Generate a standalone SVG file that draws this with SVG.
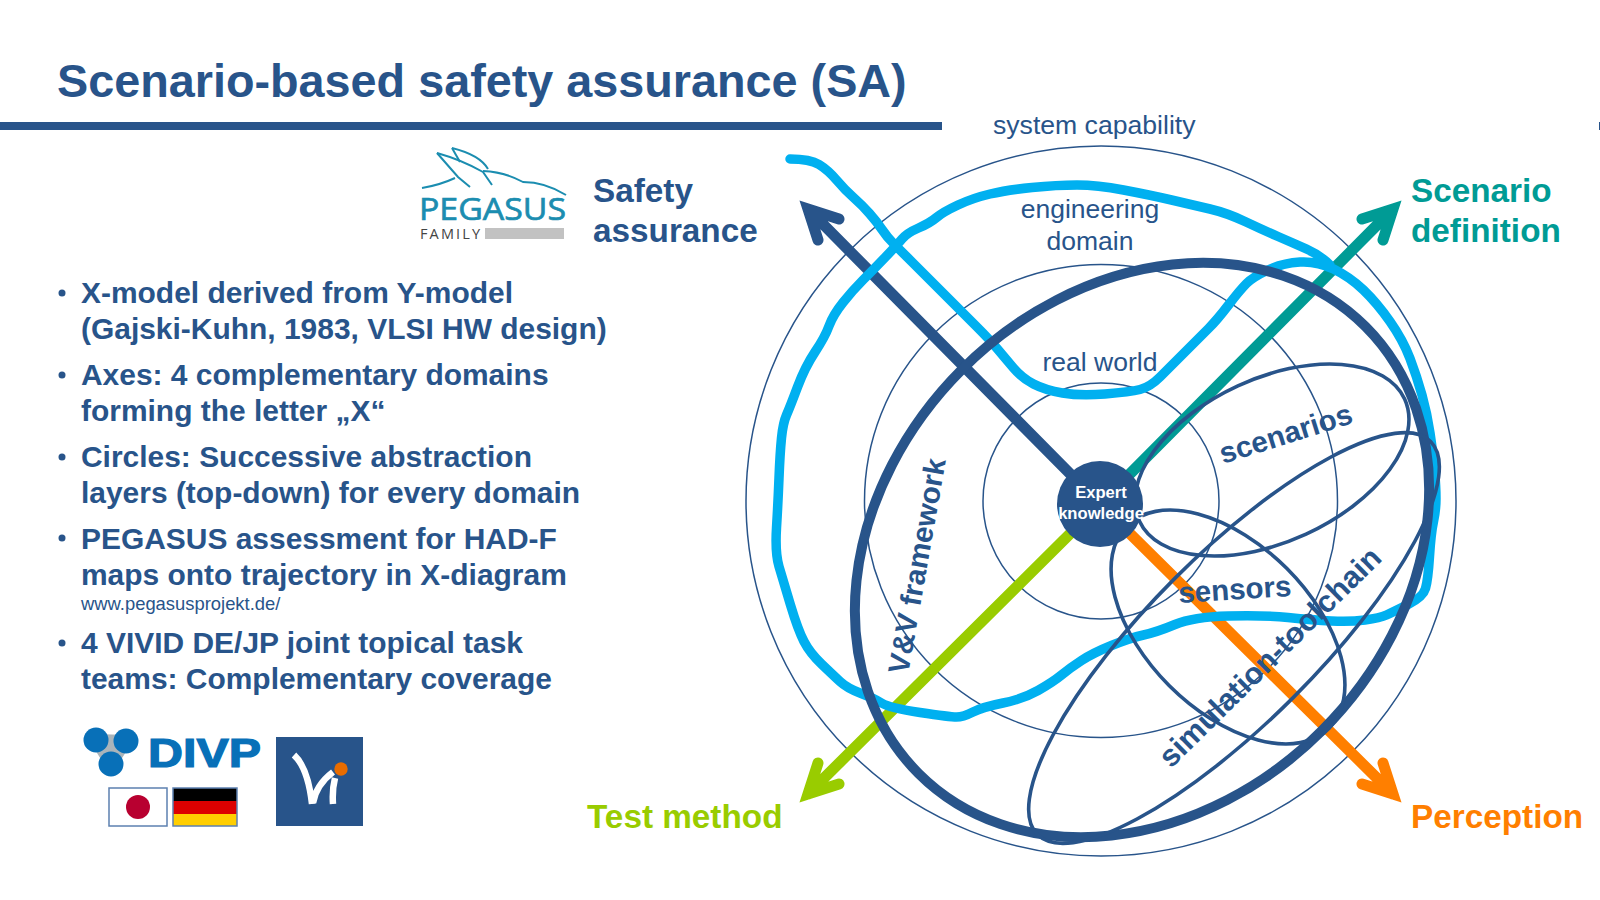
<svg xmlns="http://www.w3.org/2000/svg" width="1600" height="900" viewBox="0 0 1600 900">
<style>
text{font-family:"Liberation Sans",Arial,sans-serif;fill:#28548a}
.b{font-weight:700}
.bul{font-weight:700;font-size:29.95px}
.lab{font-size:26.5px}
.rot{font-weight:700;font-size:29.5px}
.dom{font-weight:700;font-size:33.3px}
.ring{fill:none;stroke:#28548a;stroke-width:1.5}
.ell{fill:none;stroke:#28548a;stroke-width:3.6}
.ax{fill:none;stroke-width:11;stroke-linecap:round;stroke-linejoin:miter}
</style>
<rect width="1600" height="900" fill="#fff"/>
<g id="header">
<text class="b" x="57" y="96.5" font-size="46.75">Scenario-based safety assurance (SA)</text>
<rect x="0" y="122" width="942" height="8" fill="#28548a"/>
<rect x="1599" y="122" width="1" height="8" fill="#28548a"/>
</g>
<g id="bullets">
<circle cx="62" cy="293" r="3.5" fill="#28548a"/><circle cx="62" cy="375" r="3.5" fill="#28548a"/><circle cx="62" cy="457" r="3.5" fill="#28548a"/><circle cx="62" cy="538" r="3.5" fill="#28548a"/><circle cx="62" cy="643" r="3.5" fill="#28548a"/>
<text class="bul" x="81" y="303">X-model derived from Y-model</text>
<text class="bul" x="81" y="339">(Gajski-Kuhn, 1983, VLSI HW design)</text>
<text class="bul" x="81" y="385">Axes: 4 complementary domains</text>
<text class="bul" x="81" y="421">forming the letter „X“</text>
<text class="bul" x="81" y="467">Circles: Successive abstraction</text>
<text class="bul" x="81" y="503">layers (top-down) for every domain</text>
<text class="bul" x="81" y="548.5">PEGASUS assessment for HAD-F</text>
<text class="bul" x="81" y="585">maps onto trajectory in X-diagram</text>
<text x="81" y="610" font-size="18.4">www.pegasusprojekt.de/</text>
<text class="bul" x="81" y="653">4 VIVID DE/JP joint topical task</text>
<text class="bul" x="81" y="689">teams: Complementary coverage</text>
</g>
<g id="pegasus-logo">
<g fill="none" stroke="#1b8db0" stroke-width="2">
<path d="M422 188Q440 185 455 178"/>
<path d="M437 153L458 177L470 187"/>
<path d="M437 153Q462 160 483 172L492 185"/>
<path d="M452 148Q480 155 488 169"/>
<path d="M452 148L460 162"/>
<path d="M483 171Q505 172 523 182Q545 182 566 195"/>
</g>
<text x="419" y="220" font-size="31.5" textLength="147" lengthAdjust="spacingAndGlyphs" stroke="#1b8db0" stroke-width="0.7" style="font-family:'Open Sans',sans-serif;fill:#1b8db0">PEGASUS</text>
<text x="420" y="239" font-size="14.5" textLength="60" style="font-family:'Open Sans',sans-serif;fill:#444">FAMILY</text>
<rect x="485" y="228" width="79" height="11" fill="#c2c2c2"/>
</g>
<g id="divp-logo">
<path d="M96 740L126 741L111 764Z" fill="#aab4ba" stroke="#aab4ba" stroke-width="12"/>
<circle cx="96" cy="740" r="12.5" fill="#0870b8"/><circle cx="126" cy="741" r="12.5" fill="#0870b8"/><circle cx="111" cy="764" r="12.5" fill="#0870b8"/>
<text class="b" x="148" y="767" font-size="40" textLength="113" lengthAdjust="spacingAndGlyphs" stroke="#0870b8" stroke-width="1.2" style="fill:#0870b8">DIVP</text>
</g>
<g id="flags">
<rect x="109" y="788" width="58" height="38" fill="#fff" stroke="#5c80b0" stroke-width="1.5"/>
<circle cx="138" cy="807" r="12" fill="#b80030"/>
<rect x="173" y="788" width="64" height="13" fill="#000"/><rect x="173" y="801" width="64" height="13" fill="#d00"/><rect x="173" y="814" width="64" height="12" fill="#ffce00"/>
<rect x="173" y="788" width="64" height="38" fill="none" stroke="#5c80b0" stroke-width="1.5"/>
</g>
<g id="vivid-logo">
<rect x="276" y="737" width="87" height="89" fill="#28548a"/>
<path d="M294 755Q308 768 312 804M313 803Q316 785 333 772M333 804Q332 790 335 778" fill="none" stroke="#fff" stroke-width="6.5"/>
<circle cx="341" cy="769" r="6.7" fill="#e86c00"/>
</g>
<g id="rings">
<circle class="ring" cx="1101" cy="501" r="355"/>
<circle class="ring" cx="1101" cy="501" r="236.5"/>
<circle class="ring" cx="1101" cy="501" r="118"/>
</g>
<g id="connectors">
<path class="ax" stroke="#99cc00" d="M1100 504L808 794M839 784L808 794L818 763"/>
<path class="ax" stroke="#ff7f00" d="M1100 504L1393 794M1362 784L1393 794L1383 763"/>
<path class="ax" stroke="#009b95" d="M1100 504L1393 209M1362 219L1393 209L1383 240"/>
<path class="ax" stroke="#28548a" d="M1100 504L808 209M839 219L808 209L818 240"/>
</g>
<g id="trajectory">
<path fill="none" stroke="#00b0f0" stroke-width="9.5" stroke-linecap="round" stroke-linejoin="round" d="M790 159Q810 159 819 164.5Q828 170 836.5 180Q845 190 853.5 197.5Q862 205 869.5 213.5Q877 222 882 229.5Q887 237 893.5 243.5Q900 250 912.5 262.5Q925 275 935 285Q945 295 953.5 303.5Q962 312 976 326Q990 340 997.5 349Q1005 358 1013.5 368Q1022 378 1033.5 384Q1045 390 1062.5 393Q1080 396 1105 394Q1130 392 1140 389.5Q1150 387 1160 377Q1170 367 1185 352Q1200 337 1208.5 328.5Q1217 320 1228.5 305Q1240 290 1246.5 283.5Q1253 277 1268 270Q1283 263 1300 262Q1317 261 1333.5 269Q1350 277 1363.5 290Q1377 303 1390 321.5Q1403 340 1410 358.5Q1417 377 1422 395Q1427 413 1430 433Q1433 453 1434.5 470Q1436 487 1436 498.5Q1436 510 1433.5 521.5Q1431 533 1429.5 556.5Q1428 580 1425.5 588.5Q1423 597 1408 604.5Q1393 612 1386.5 615Q1380 618 1365 620Q1350 622 1331.5 621Q1313 620 1288 617.5Q1263 615 1228 616Q1193 617 1175 624.5Q1157 632 1143.5 635Q1130 638 1111.5 645.5Q1093 653 1081.5 660.5Q1070 668 1061.5 675Q1053 682 1038 690.5Q1023 699 1003 703Q983 707 973 712Q963 717 956.5 717Q950 717 920 712.5Q890 708 881.5 703Q873 698 860 693Q847 688 840 681.5Q833 675 821.5 664Q810 653 804 641.5Q798 630 790.5 605Q783 580 779 566.5Q775 553 776.5 528Q778 503 779 478Q780 453 781.5 438Q783 423 786.5 415Q790 407 797.5 387Q805 367 815 352Q825 337 829 326Q833 315 843 302.5Q853 290 863 280Q873 270 885 257.5Q897 245 902 239Q907 233 918.5 228Q930 223 936.5 217.5Q943 212 958 205Q973 198 990 194Q1007 190 1032 187.5Q1057 185 1077 185Q1097 185 1123.5 190Q1150 195 1171.5 200Q1193 205 1210 209Q1227 213 1245 221.5Q1263 230 1278 236.5Q1293 243 1306.5 249Q1320 255 1330 265"/>
</g>
<g id="vv-framework">
<ellipse cx="1142" cy="550" rx="316" ry="255" transform="rotate(-45 1142 550)" fill="none" stroke="#28548a" stroke-width="10"/>
<text class="rot" transform="translate(908 675) rotate(-80)">V&amp;V framework</text>
</g>
<g id="scenarios">
<ellipse class="ell" cx="1272" cy="460" rx="146" ry="81.6" transform="rotate(-24.7 1272 460)"/>
<text class="rot" transform="translate(1223 464) rotate(-17.5)">scenarios</text>
</g>
<g id="sensors">
<ellipse class="ell" cx="1228" cy="627" rx="143" ry="83" transform="rotate(45 1228 627)"/>
<text class="rot" transform="translate(1179 603) rotate(-3.6)">sensors</text>
</g>
<g id="simulation-toolchain">
<ellipse class="ell" cx="1234" cy="638" rx="278" ry="84" transform="rotate(-45 1234 638)"/>
<text class="rot" style="font-size:30.5px" transform="translate(1171 769) rotate(-44.6)">simulation-toolchain</text>
</g>
<g id="expert-knowledge">
<circle cx="1100" cy="504" r="43" fill="#28548a"/>
<text class="b" x="1101" y="498" font-size="16.6" text-anchor="middle" style="fill:#fff">Expert</text>
<text class="b" x="1101" y="519" font-size="16.6" text-anchor="middle" style="fill:#fff">knowledge</text>
</g>
<g id="layer-labels">
<text class="lab" x="993" y="133.5" style="font-size:26.6px">system capability</text>
<text class="lab" x="1090" y="218" text-anchor="middle">engineering</text>
<text class="lab" x="1090" y="250" text-anchor="middle">domain</text>
<text class="lab" x="1100" y="371" text-anchor="middle">real world</text>
</g>
<g id="domain-labels">
<text class="dom" x="593" y="202">Safety</text>
<text class="dom" x="593" y="242">assurance</text>
<text class="dom" x="1411" y="202" style="fill:#009b95">Scenario</text>
<text class="dom" x="1411" y="242" style="fill:#009b95">definition</text>
<text class="dom" x="1411" y="828" style="fill:#ff7f00">Perception</text>
<text class="dom" x="587" y="828" style="fill:#99cc00">Test method</text>
</g>
</svg>
